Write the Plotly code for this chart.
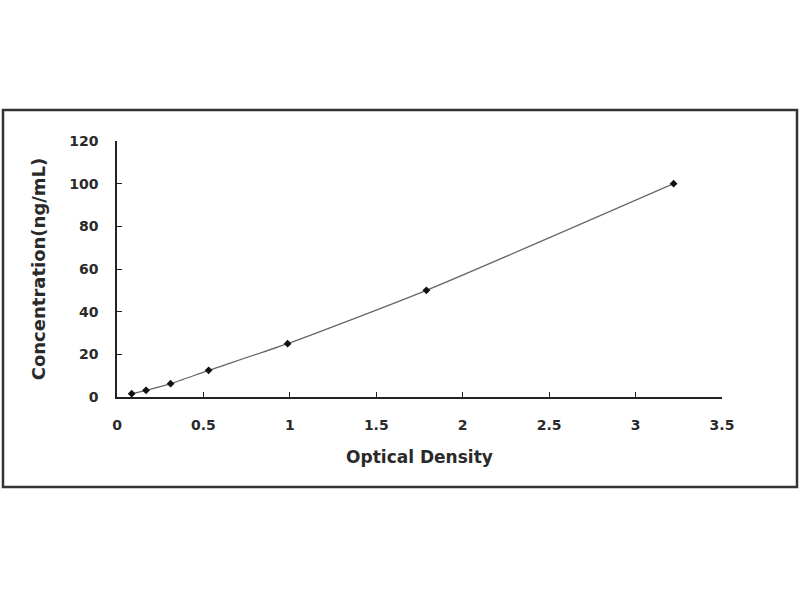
import plotly.graph_objects as go

# standard curve
optical_density = [0.085, 0.168, 0.31, 0.53, 0.987, 1.79, 3.22]
concentration = [1.56, 3.12, 6.25, 12.5, 25, 50, 100]

x_ticks = [0, 0.5, 1, 1.5, 2, 2.5, 3, 3.5]
x_tick_text = ["0", "0.5", "1", "1.5", "2", "2.5", "3", "3.5"]
y_ticks = [0, 20, 40, 60, 80, 100, 120]

W, H = 800, 600
L, R, T, B = 117, 722, 141, 397  # plot area in pixels

fig = go.Figure()
fig.add_trace(go.Scatter(
    x=optical_density, y=concentration,
    mode="lines+markers",
    line=dict(color="#666666", width=1.2, shape="spline", smoothing=0.6),
    marker=dict(symbol="diamond", size=6, color="#111111"),
    showlegend=False,
))

font_b = dict(family="DejaVu Sans", size=14, color="#2a2a2a", weight="bold")

fig.update_xaxes(
    range=[0, 3.5], tickvals=x_ticks, ticktext=x_tick_text,
    showline=True, linecolor="#222222", linewidth=1.5,
    ticks="inside", ticklen=5, tickcolor="#222222", tickwidth=1.2,
    showgrid=False, zeroline=False, tickfont=font_b, ticklabelstandoff=14,
    title=dict(text="Optical Density", font=dict(font_b, size=17), standoff=20),
)
fig.update_yaxes(
    range=[0, 120], tickvals=y_ticks,
    showline=True, linecolor="#222222", linewidth=1.5,
    ticks="inside", ticklen=5, tickcolor="#222222", tickwidth=1.2,
    showgrid=False, zeroline=False, tickfont=font_b, ticklabelstandoff=14,
    title=dict(text="Concentration(ng/mL)", font=dict(font_b, size=18), standoff=19),
)

# outer frame around the whole chart
pw, ph = R - L, B - T
fig.add_shape(
    type="rect", xref="paper", yref="paper",
    x0=(3 - L) / pw, x1=(797 - L) / pw,
    y0=(B - 487) / ph, y1=(B - 110) / ph,
    line=dict(color="#333333", width=2.5),
)

fig.update_layout(
    width=W, height=H,
    margin=dict(l=L, r=W - R, t=T, b=H - B),
    paper_bgcolor="white", plot_bgcolor="white",
)

# drop the page's default body margin so the figure sits at 0,0
fig.write_html("out.html", config={"displayModeBar": False},
               post_script="document.body.style.margin='0';")
